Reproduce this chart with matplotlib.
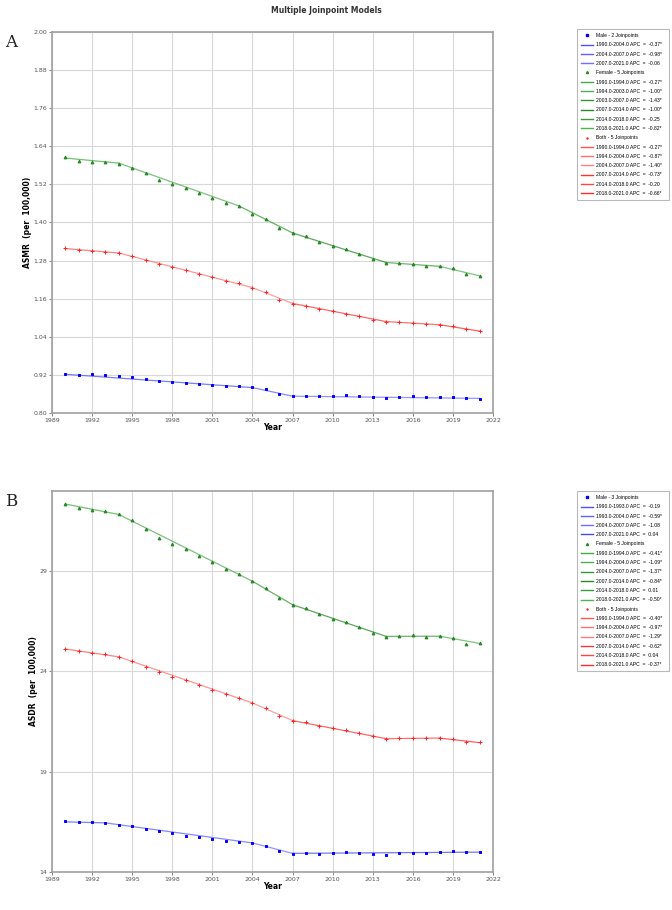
import matplotlib
matplotlib.use("Agg")
import matplotlib.pyplot as plt
from matplotlib.lines import Line2D

years = list(range(1990, 2022))

# Panel A - ASMR observed values
asmr_male = [0.924, 0.921, 0.922, 0.919, 0.915, 0.913, 0.907, 0.901, 0.897, 0.894,
             0.892, 0.889, 0.885, 0.885, 0.881, 0.876, 0.859, 0.852, 0.854, 0.853,
             0.855, 0.856, 0.854, 0.850, 0.846, 0.850, 0.853, 0.849, 0.850, 0.849,
             0.846, 0.844]
asmr_female = [1.605, 1.595, 1.592, 1.591, 1.585, 1.572, 1.556, 1.535, 1.521, 1.510,
               1.494, 1.478, 1.462, 1.451, 1.427, 1.410, 1.384, 1.366, 1.358, 1.340,
               1.326, 1.317, 1.302, 1.285, 1.273, 1.272, 1.270, 1.264, 1.262, 1.256,
               1.239, 1.232]
asmr_both = [1.319, 1.314, 1.311, 1.308, 1.304, 1.295, 1.283, 1.268, 1.259, 1.249,
             1.239, 1.227, 1.217, 1.208, 1.195, 1.180, 1.157, 1.144, 1.138, 1.128,
             1.121, 1.113, 1.105, 1.094, 1.087, 1.086, 1.085, 1.081, 1.078, 1.074,
             1.064, 1.058]

# Panel A - fitted values at the joinpoints
asmr_male_jp = [1990, 2004, 2007, 2021]
asmr_male_fit = [0.922, 0.880, 0.853, 0.846]
asmr_female_jp = [1990, 1994, 2003, 2007, 2014, 2018, 2021]
asmr_female_fit = [1.603, 1.587, 1.452, 1.367, 1.274, 1.262, 1.232]
asmr_both_jp = [1990, 1994, 2004, 2007, 2014, 2018, 2021]
asmr_both_fit = [1.318, 1.304, 1.195, 1.145, 1.088, 1.078, 1.058]

# Panel B - ASDR observed values
asdr_male = [16.53, 16.48, 16.49, 16.46, 16.36, 16.28, 16.16, 16.02, 15.92, 15.82,
             15.75, 15.67, 15.57, 15.52, 15.44, 15.32, 15.04, 14.91, 14.94, 14.91,
             14.97, 14.99, 14.97, 14.91, 14.84, 14.94, 14.97, 14.96, 14.99, 15.04,
             14.99, 14.99]
asdr_female = [32.37, 32.17, 32.06, 31.99, 31.83, 31.53, 31.10, 30.65, 30.36, 30.12,
               29.78, 29.45, 29.10, 28.88, 28.49, 28.16, 27.68, 27.33, 27.17, 26.87,
               26.64, 26.47, 26.21, 25.94, 25.73, 25.76, 25.81, 25.73, 25.75, 25.66,
               25.38, 25.42]
asdr_both = [25.13, 25.00, 24.94, 24.85, 24.74, 24.54, 24.24, 23.95, 23.73, 23.55,
             23.32, 23.09, 22.86, 22.69, 22.43, 22.19, 21.80, 21.55, 21.47, 21.30,
             21.19, 21.09, 20.92, 20.76, 20.62, 20.66, 20.69, 20.66, 20.67, 20.64,
             20.46, 20.46]

asdr_male_jp = [1990, 1993, 2004, 2007, 2021]
asdr_male_fit = [16.50, 16.45, 15.45, 14.93, 14.99]
asdr_female_jp = [1990, 1994, 2004, 2007, 2014, 2018, 2021]
asdr_female_fit = [32.35, 31.83, 28.50, 27.33, 25.75, 25.76, 25.40]
asdr_both_jp = [1990, 1994, 2004, 2007, 2014, 2018, 2021]
asdr_both_fit = [25.12, 24.73, 22.43, 21.55, 20.65, 20.68, 20.45]

# legend texts
asmr_male_apc = ["1990.0-2004.0 APC  =  -0.37*", "2004.0-2007.0 APC  =  -0.98*",
                 "2007.0-2021.0 APC  =  -0.06"]
asmr_female_apc = ["1990.0-1994.0 APC  =  -0.27*", "1994.0-2003.0 APC  =  -1.00*",
                   "2003.0-2007.0 APC  =  -1.43*", "2007.0-2014.0 APC  =  -1.00*",
                   "2014.0-2018.0 APC  =  -0.25", "2018.0-2021.0 APC  =  -0.82*"]
asmr_both_apc = ["1990.0-1994.0 APC  =  -0.27*", "1994.0-2004.0 APC  =  -0.87*",
                 "2004.0-2007.0 APC  =  -1.40*", "2007.0-2014.0 APC  =  -0.73*",
                 "2014.0-2018.0 APC  =  -0.20", "2018.0-2021.0 APC  =  -0.66*"]
asdr_male_apc = ["1990.0-1993.0 APC  =  -0.19", "1993.0-2004.0 APC  =  -0.59*",
                 "2004.0-2007.0 APC  =  -1.08", "2007.0-2021.0 APC  =  0.04"]
asdr_female_apc = ["1990.0-1994.0 APC  =  -0.41*", "1994.0-2004.0 APC  =  -1.09*",
                   "2004.0-2007.0 APC  =  -1.37*", "2007.0-2014.0 APC  =  -0.84*",
                   "2014.0-2018.0 APC  =  0.01", "2018.0-2021.0 APC  =  -0.50*"]
asdr_both_apc = ["1990.0-1994.0 APC  =  -0.40*", "1994.0-2004.0 APC  =  -0.97*",
                 "2004.0-2007.0 APC  =  -1.29*", "2007.0-2014.0 APC  =  -0.62*",
                 "2014.0-2018.0 APC  =  0.04", "2018.0-2021.0 APC  =  -0.37*"]

blues = ["#5050ff", "#6060ff", "#7070ff", "#4848f0"]
greens = ["#44aa44", "#55aa55", "#339933", "#2a8a2a", "#3c9c3c", "#55b055"]
reds = ["#ff5555", "#ff7070", "#ff8080", "#ff3333", "#ff4444", "#ff2a2a"]

W, H = 672, 910
fig = plt.figure(figsize=(W / 100, H / 100), dpi=100)
fig.text(0.485, 0.993, "Multiple Joinpoint Models", ha="center", va="top",
         fontsize=5.5, fontweight="bold", color="#333333")


def draw_panel(top_px, letter, ylabel, ylim, yticks, fmt, groups, legend_top, legend_h):
    ax = fig.add_axes([52 / W, 1 - (top_px + 381) / H, 441 / W, 381 / H])
    handles = []
    for name, obs, jp, fit, apc, cols, marker, mcol, ms in groups:
        ax.plot(years, obs, ls="none", marker=marker, color=mcol, ms=ms, mew=0.7, zorder=3)
        for i in range(len(jp) - 1):
            ax.plot(jp[i:i + 2], fit[i:i + 2], color=cols[i % len(cols)], lw=0.9,
                    alpha=0.75, zorder=2)
        handles.append(Line2D([], [], ls="none", marker=marker, color=mcol, ms=1.5,
                              label=name))
        for i, txt in enumerate(apc):
            handles.append(Line2D([], [], color=cols[i % len(cols)], lw=1.0, label=txt))
    ax.set_xlim(1989, 2022)
    ax.set_xticks(range(1989, 2023, 3))
    ax.set_ylim(*ylim)
    ax.set_yticks(yticks)
    ax.set_yticklabels([fmt.format(v) for v in yticks])
    ax.grid(True, color="#d8d8d8", lw=0.8)
    ax.set_axisbelow(True)
    ax.tick_params(labelsize=4.5, colors="#555555", length=2, width=0.5, pad=1.5)
    for s in ax.spines.values():
        s.set_color("#a0a0a0")
        s.set_linewidth(1.2)
    ax.set_ylabel(ylabel, fontsize=5.5, fontweight="bold", labelpad=1)
    ax.set_xlabel("Year", fontsize=5.5, fontweight="bold", labelpad=0)
    fig.text(5 / W, 1 - (top_px + 2) / H, letter, fontsize=12, family="DejaVu Serif",
             va="top", ha="left", color="#222222")
    leg = fig.legend(handles=handles, loc="upper left",
                     bbox_to_anchor=(577 / W, 1 - (legend_top + legend_h) / H,
                                     92 / W, legend_h / H),
                     mode="expand", prop={"family": "Liberation Sans", "size": 3.6},
                     frameon=True, fancybox=False,
                     edgecolor="#a8a8a8", handlelength=2.4, handletextpad=0.5,
                     labelspacing=0.86, borderpad=0.8, borderaxespad=0)
    leg.get_frame().set_linewidth(0.8)
    return ax


draw_panel(32, "A", "ASMR  (per  100,000)", (0.80, 2.00),
           [0.80, 0.92, 1.04, 1.16, 1.28, 1.40, 1.52, 1.64, 1.76, 1.88, 2.00], "{:.2f}",
           [("Male - 2 Joinpoints", asmr_male, asmr_male_jp, asmr_male_fit, asmr_male_apc,
             blues, "s", "#0000ff", 2.0),
            ("Female - 5 Joinpoints", asmr_female, asmr_female_jp, asmr_female_fit,
             asmr_female_apc, greens, "^", "#228822", 2.0),
            ("Both - 5 Joinpoints", asmr_both, asmr_both_jp, asmr_both_fit, asmr_both_apc,
             reds, "+", "#ff2222", 2.4)],
           29, 167)

draw_panel(491, "B", "ASDR  (per  100,000)", (14, 33), [14, 19, 24, 29], "{:d}",
           [("Male - 3 Joinpoints", asdr_male, asdr_male_jp, asdr_male_fit, asdr_male_apc,
             blues, "s", "#0000ff", 2.0),
            ("Female - 5 Joinpoints", asdr_female, asdr_female_jp, asdr_female_fit,
             asdr_female_apc, greens, "^", "#228822", 2.0),
            ("Both - 5 Joinpoints", asdr_both, asdr_both_jp, asdr_both_fit, asdr_both_apc,
             reds, "+", "#ff2222", 2.4)],
           491, 177)

fig.savefig("out.png", dpi=100)
